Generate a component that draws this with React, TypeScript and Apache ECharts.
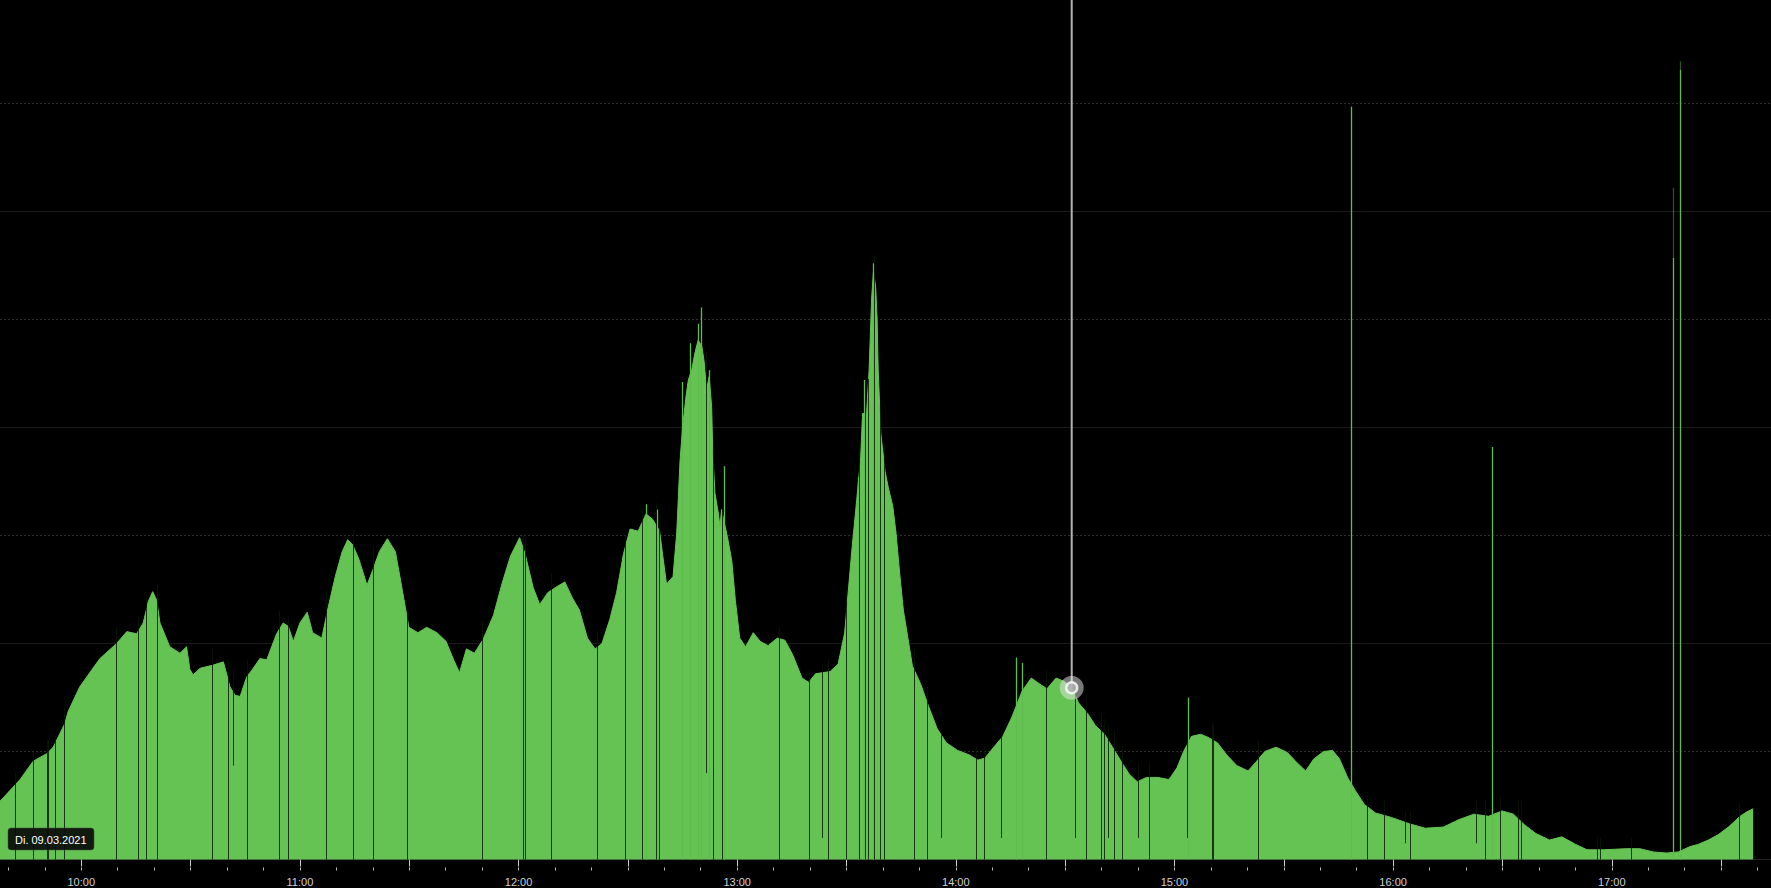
import React, { useEffect, useRef } from 'react';
import * as echarts from 'echarts';

// ---- data (time in minutes of the day, values in grid units: 100 per gridline) ----
const dateLabel = 'Di. 09.03.2021';
const viewStartTime = 577.7; // left edge of the picture
const viewEndTime = 1063.7; // right edge of the picture
const valueTop = 795.8; // value at the top edge
const solidGridStep = 200;
const dottedGridValues = [100, 300, 500, 700];
const hourTicks = [600, 660, 720, 780, 840, 900, 960, 1020];
const halfHourTicks = [600, 630, 660, 690, 720, 750, 780, 810, 840, 870, 900, 930, 960, 990, 1020, 1050];
const tenMinuteTicks = [
  580, 590, 600, 610, 620, 630, 640, 650, 660, 670, 680, 690, 700, 710, 720, 730, 740, 750, 760, 770, 780,
  790, 800, 810, 820, 830, 840, 850, 860, 870, 880, 890, 900, 910, 920, 930, 940, 950, 960, 970, 980, 990,
  1000, 1010, 1020, 1030, 1040, 1050, 1060,
];

const profileTime = [
  577.7, 583.2, 586.8, 590.5, 592.3, 595.5, 596.4, 599.6, 605.1, 609.7, 612.5, 615.2, 617.0, 618.4, 619.6,
  620.7, 621.6, 624.3, 627.1, 628.9, 629.8, 630.7, 632.6, 636.2, 639.0, 640.8, 642.2, 643.6, 645.4, 647.2,
  649.0, 650.9, 653.6, 655.4, 656.8, 658.2, 660.0, 662.0, 663.5, 666.0, 667.6, 669.7, 671.6, 673.1, 674.4,
  676.2, 678.4, 680.0, 681.8, 684.0, 686.2, 687.7, 689.9, 692.4, 694.8, 697.6, 700.1, 702.3, 703.8, 705.7,
  707.9, 710.3, 713.1, 715.6, 717.8, 720.3, 721.8, 724.0, 725.8, 728.0, 730.2, 732.7, 734.8, 736.7, 738.9,
  741.0, 742.9, 745.1, 746.9, 748.8, 750.6, 752.8, 755.0, 756.8, 758.7, 760.6, 762.4, 763.4, 764.3, 765.0,
  766.0, 766.6, 767.5, 768.4, 769.3, 770.3, 770.9, 771.6, 772.3, 773.0, 773.3, 773.9, 774.8, 775.3, 775.7,
  777.3, 778.5, 779.5, 780.7, 782.3, 784.4, 786.3, 788.5, 791.0, 793.1, 795.3, 797.8, 799.6, 801.5, 805.5,
  807.7, 809.5, 811.4, 812.8, 813.9, 814.4, 815.5, 816.2, 816.9, 817.4, 818.0, 818.4, 818.7, 819.4, 820.6,
  821.5, 822.7, 823.6, 824.5, 825.6, 828.1, 830.3, 832.5, 834.9, 837.4, 840.5, 843.6, 846.1, 848.0, 850.4,
  852.9, 855.4, 858.2, 860.7, 862.8, 865.0, 867.5, 869.7, 871.8, 873.7, 876.2, 878.3, 880.8, 883.0, 885.5,
  887.6, 889.8, 892.3, 895.4, 898.5, 900.7, 902.5, 904.7, 907.2, 909.3, 911.8, 914.3, 917.1, 920.2, 922.3,
  924.8, 927.9, 931.0, 933.5, 936.0, 938.2, 940.9, 943.4, 945.3, 947.5, 949.6, 952.1, 955.2, 959.5, 964.5,
  968.8, 973.8, 978.1, 982.2, 986.2, 989.9, 993.0, 996.1, 999.2, 1002.9, 1006.3, 1010.1, 1013.2, 1017.8, 1024.0,
  1027.7, 1031.4, 1035.1, 1038.3, 1041.5, 1043.7, 1046.5, 1049.2, 1052.0, 1055.2, 1057.0, 1058.8,
];
const profileValue = [
  54, 74, 91, 98, 104, 126, 137, 160, 186, 200, 211, 209, 219, 239, 248,
  240, 219, 197, 191, 197, 176, 171, 177, 180, 183, 160, 152, 151, 169, 177,
  186, 185, 209, 219, 216, 202, 219, 229, 210, 205, 231, 262, 285, 296, 292,
  278, 254, 268, 285, 297, 285, 257, 215, 210, 215, 210, 202, 184, 173, 195,
  191, 204, 226, 257, 281, 298, 283, 252, 236, 247, 252, 257, 242, 231, 205,
  195, 200, 223, 247, 283, 306, 304, 320, 315, 304, 255, 262, 302, 368, 400,
  430, 444, 453, 469, 481, 475, 462, 435, 447, 419, 376, 339, 321, 308, 324,
  299, 277, 240, 205, 197, 210, 202, 198, 205, 203, 189, 168, 164, 172, 174,
  181, 210, 284, 333, 373, 413, 413, 453, 520, 545, 530, 500, 453, 395, 359,
  344, 327, 302, 268, 231, 179, 163, 142, 121, 108, 101, 97, 92, 94, 104,
  114, 132, 156, 168, 163, 158, 168, 165, 159, 145, 135, 124, 116, 104, 90,
  79, 72, 76, 76, 74, 85, 100, 114, 116, 113, 108, 97, 87, 82, 90,
  100, 104, 99, 90, 82, 93, 100, 101, 93, 76, 64, 51, 43, 39, 33,
  29, 30, 37, 42, 40, 45, 42, 32, 24, 18, 21, 14, 9, 9, 10,
  10, 7, 6, 7, 12, 14, 18, 23, 30, 40, 44, 47,
];

// short drop-outs (dark lines through the area): time, lower value, upper value
const dipTime = [
  582.0, 586.9, 590.6, 591.1, 592.9, 595.5, 609.7, 615.7, 617.9, 620.8, 636.0, 640.5, 641.8, 645.7, 654.5,
  657.0, 667.4, 674.6, 680.3, 689.5, 710.2, 721.4, 722.0, 729.1, 741.8, 749.4, 753.9, 757.8, 758.6, 771.7,
  773.6, 776.0, 791.7, 799.8, 803.3, 805.0, 810.1, 813.7, 815.3, 815.9, 817.8, 819.3, 820.3, 828.7, 832.1,
  836.0, 845.8, 847.9, 852.4, 865.0, 872.9, 875.9, 879.9, 880.7, 882.0, 883.6, 885.7, 890.1, 893.1, 903.6,
  910.3, 910.8, 923.1, 953.1, 957.6, 963.4, 964.9, 982.8, 985.4, 989.6, 994.5, 995.2, 1016.2, 1016.9, 1025.3,
  1055.1,
];
const dipLow = [
  0, 0, 0, 0, 0, 0, 0, 0, 0, 0, 0, 0, 87, 0, 0,
  0, 0, 0, 0, 0, 0, 0, 0, 0, 0, 0, 0, 0, 0, 80,
  0, 0, 0, 0, 20, 0, 0, 0, 0, 0, 0, 0, 0, 0, 0,
  20, 0, 0, 20, 0, 20, 0, 0, 0, 20, 0, 0, 20, 0, 20,
  0, 0, 0, 0, 0, 15, 0, 15, 0, 0, 0, 0, 0, 0, 0,
  0,
];
const dipHigh = [
  80, 100, 110, 110, 115, 140, 215, 225, 245, 255, 195, 185, 175, 185, 230,
  225, 250, 305, 290, 230, 220, 300, 300, 265, 210, 300, 325, 330, 320, 470,
  380, 325, 215, 175, 180, 185, 250, 385, 425, 445, 560, 420, 385, 195, 160,
  115, 105, 105, 120, 175, 160, 150, 135, 130, 125, 120, 105, 90, 90, 115,
  125, 125, 110, 60, 55, 45, 45, 55, 55, 58, 55, 55, 20, 20, 20,
  52,
];

// single-sample spikes (green lines above the area): time, bright top, faint tip
const spikeTime = [755.2, 758.1, 765.0, 767.3, 769.3, 770.3, 772.3, 776.4, 813.2, 814.8, 817.3, 856.7, 858.3, 903.8, 948.6, 987.2, 1036.9, 1038.8];
const spikeTop = [329, 324, 442, 478, 496, 511, 453, 364, 354, 444, 552, 187, 182, 150, 697, 382, 557, 731];
const spikeTip = [329, 324, 442, 478, 496, 511, 453, 364, 354, 444, 552, 187, 182, 150, 697, 382, 622, 739];

// hovered point
const cursorTime = 871.8;
const cursorValue = 159;

const GREEN = '#65c353';

function hourLabel(v: number): string {
  const h = Math.round(v / 60);
  return `${h < 10 ? '0' : ''}${h}:00`;
}

const snap = (x: number) => Math.round(x - 0.5) + 0.5;

export default function App() {
  const ref = useRef<HTMLDivElement>(null);

  useEffect(() => {
    if (!ref.current) return;
    const chart = echarts.init(ref.current, undefined, { renderer: 'svg' });

    const areaData = profileTime.map((t, i) => [t, profileValue[i]]);
    const dipData = dipTime.map((t, i) => [t, dipLow[i], dipHigh[i]]);
    const spikeData = spikeTime.map((t, i) => [t, spikeTop[i], spikeTip[i]]);
    const dottedData = dottedGridValues.map((v) => [viewStartTime, v]);

    const baseX = {
      type: 'value',
      min: viewStartTime,
      max: viewEndTime,
      position: 'bottom',
      splitLine: { show: false },
    };

    const option: any = {
      animation: false,
      backgroundColor: '#000',
      grid: { left: 0, right: 0, top: 0, bottom: 28.5, containLabel: false, outerBoundsMode: 'none' },
      xAxis: [
        {
          ...baseX,
          offset: 8,
          axisLine: { show: false },
          axisTick: {
            show: true,
            length: 7,
            customValues: halfHourTicks,
            lineStyle: { color: '#cfcfcf', width: 1 },
          },
          axisLabel: {
            show: true,
            margin: 9,
            customValues: hourTicks,
            color: '#d0d0d0',
            fontSize: 11,
            lineHeight: 11,
            fontFamily: '"Liberation Sans", Arial, sans-serif',
            formatter: hourLabel,
          },
        },
        {
          ...baseX,
          offset: 8,
          axisLine: { show: false },
          axisTick: {
            show: true,
            length: 3,
            customValues: tenMinuteTicks,
            lineStyle: { color: '#bdbdbd', width: 1 },
          },
          axisLabel: { show: false },
        },
        {
          ...baseX,
          offset: 0,
          axisLine: { show: true, lineStyle: { color: '#222', width: 1 } },
          axisTick: { show: false },
          axisLabel: { show: false },
        },
      ],
      yAxis: {
        type: 'value',
        min: 0,
        max: valueTop,
        interval: solidGridStep,
        axisLine: { show: false },
        axisTick: { show: false },
        axisLabel: { show: false },
        splitLine: { show: true, showMaxLine: false, lineStyle: { color: '#1c1c1c', width: 1 } },
      },
      series: [
        {
          type: 'custom',
          name: 'dotted grid',
          silent: true,
          z: 1,
          data: dottedData,
          renderItem: (_p: any, api: any) => {
            const v = api.value(1);
            const a = api.coord([viewStartTime, v]);
            const b = api.coord([viewEndTime, v]);
            const y = snap(a[1]);
            return {
              type: 'line',
              shape: { x1: a[0], y1: y, x2: b[0], y2: y },
              style: { stroke: '#2f2f2f', lineWidth: 1, lineDash: [2, 2] },
            };
          },
        },
        {
          type: 'line',
          name: 'value',
          silent: true,
          z: 2,
          data: areaData,
          showSymbol: false,
          symbol: 'none',
          lineStyle: { color: GREEN, width: 1 },
          itemStyle: { color: GREEN },
          areaStyle: { color: GREEN, opacity: 1 },
        },
        {
          type: 'custom',
          name: 'spikes',
          silent: true,
          z: 3,
          data: spikeData,
          renderItem: (_p: any, api: any) => {
            const t = api.value(0);
            const base = api.coord([t, 0]);
            const top = api.coord([t, api.value(1)]);
            const tip = api.coord([t, api.value(2)]);
            const x = snap(base[0]);
            return {
              type: 'group',
              children: [
                {
                  type: 'line',
                  shape: { x1: x, y1: base[1], x2: x, y2: top[1] },
                  style: { stroke: '#5fbd4c', lineWidth: 1.3 },
                },
                {
                  type: 'line',
                  shape: { x1: x, y1: top[1], x2: x, y2: tip[1] },
                  style: { stroke: 'rgba(95,189,76,0.45)', lineWidth: 1.3 },
                },
              ],
            };
          },
        },
        {
          type: 'custom',
          name: 'dips',
          silent: true,
          z: 4,
          data: dipData,
          renderItem: (_p: any, api: any) => {
            const t = api.value(0);
            const lo = api.coord([t, api.value(1)]);
            const hi = api.coord([t, api.value(2)]);
            const x = snap(lo[0]);
            return {
              type: 'line',
              shape: { x1: x, y1: lo[1], x2: x, y2: hi[1] },
              style: { stroke: 'rgba(8,22,6,0.82)', lineWidth: 1 },
            };
          },
        },
        {
          type: 'custom',
          name: 'cursor',
          silent: true,
          z: 5,
          data: [[cursorTime, cursorValue, valueTop]],
          renderItem: (_p: any, api: any) => {
            const t = api.value(0);
            const lo = api.coord([t, api.value(1)]);
            const hi = api.coord([t, api.value(2)]);
            return {
              type: 'line',
              shape: { x1: lo[0], y1: lo[1], x2: lo[0], y2: hi[1] },
              style: { stroke: '#b4b4b4', lineWidth: 2 },
            };
          },
        },
        {
          type: 'scatter',
          name: 'halo',
          silent: true,
          z: 6,
          data: [[cursorTime, cursorValue]],
          symbol: 'circle',
          symbolSize: 24,
          itemStyle: { color: 'rgba(230,230,230,0.65)' },
        },
        {
          type: 'scatter',
          name: 'point',
          silent: true,
          z: 7,
          data: [[cursorTime, cursorValue]],
          symbol: 'circle',
          symbolSize: 11,
          itemStyle: { color: '#b0b0b0', borderColor: '#ffffff', borderWidth: 2.5 },
        },
      ],
      graphic: {
        z: 100,
        elements: [
          {
            type: 'rect',
            z: 100,
            silent: true,
            shape: { x: 8, y: 828, width: 86, height: 22, r: 3 },
            style: { fill: 'rgba(10,12,10,0.92)', stroke: 'rgba(70,80,70,0.5)', lineWidth: 1 },
          },
          {
            type: 'text',
            z: 101,
            silent: true,
            x: 15,
            y: 839.5,
            style: {
              text: dateLabel,
              fill: '#ffffff',
              font: '11px "Liberation Sans", Arial, sans-serif',
              verticalAlign: 'middle',
              align: 'left',
            },
          },
        ],
      },
    };

    chart.setOption(option);
    return () => chart.dispose();
  }, []);

  return (
    <div
      ref={ref}
      style={{ position: 'fixed', left: 0, top: 0, width: 1771, height: 888, background: '#000' }}
    />
  );
}
